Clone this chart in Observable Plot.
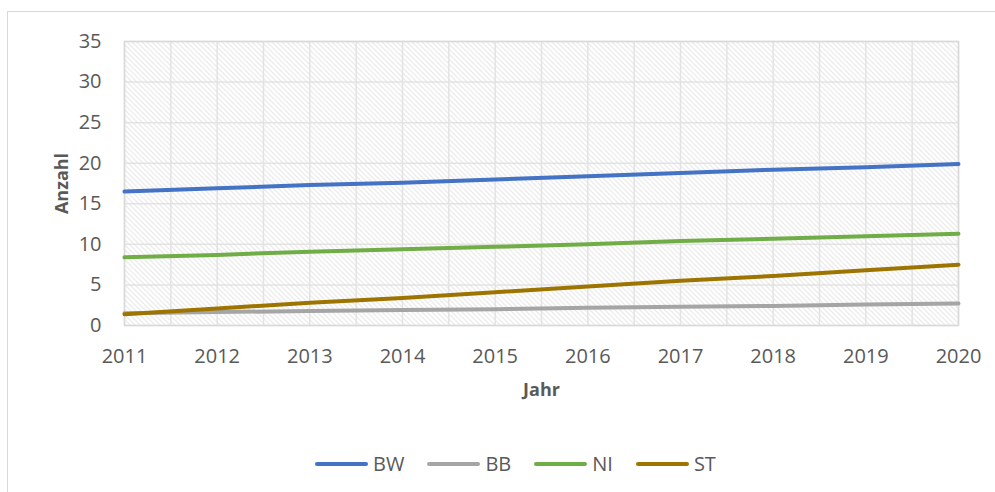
<!DOCTYPE html>
<html>
<head>
<meta charset="utf-8">
<script src="https://cdn.jsdelivr.net/npm/d3@7"></script>
<script src="https://cdn.jsdelivr.net/npm/@observablehq/plot@0.6"></script>
<style>
  html, body { margin: 0; padding: 0; background: #fff; }
  body { width: 995px; height: 492px; overflow: hidden; position: relative; font-family: "Open Sans", sans-serif; }
  #frame { position: absolute; left: 7px; top: 11px; width: 1000px; height: 500px; border: 1.5px solid #d9d9d9; pointer-events: none; box-sizing: border-box; }
  #chart { position: absolute; left: 0; top: 0; }
  #legend { position: absolute; left: 315px; top: 450px; display: flex; gap: 23px; align-items: center; color: #595959; font-size: 20px; }
  .item { display: flex; align-items: center; gap: 5px; }
  .swatch { display: inline-block; width: 53px; height: 4px; border-radius: 2px; }
</style>
</head>
<body>
<div id="frame"></div>
<div id="chart"></div>
<div id="legend"></div>
<script>
const years = [2011, 2012, 2013, 2014, 2015, 2016, 2017, 2018, 2019, 2020];
const yTicks = [0, 5, 10, 15, 20, 25, 30, 35];
const seriesNames = ["BW", "BB", "NI", "ST"];
const seriesColors = ["#4472C4", "#A5A5A5", "#70AD47", "#9E7400"];
const BW = [16.5, 16.9, 17.3, 17.6, 18.0, 18.4, 18.8, 19.2, 19.5, 19.9];
const BB = [1.5, 1.65, 1.8, 1.9, 2.0, 2.2, 2.3, 2.4, 2.6, 2.7];
const NI = [8.4, 8.7, 9.1, 9.4, 9.7, 10.0, 10.4, 10.7, 11.0, 11.3];
const ST = [1.4, 2.1, 2.8, 3.4, 4.1, 4.8, 5.5, 6.1, 6.8, 7.5];

const valuesBySeries = {BW, BB, NI, ST};
const data = seriesNames.flatMap(s => years.map((y, i) => ({series: s, year: y, value: valuesBySeries[s][i]})));

const chart = Plot.plot({
  width: 995,
  height: 420,
  marginLeft: 124,
  marginRight: 37,
  marginTop: 41,
  marginBottom: 95,
  style: {fontFamily: "Open Sans, sans-serif", color: "#595959", background: "transparent"},
  x: {domain: [2011, 2020]},
  y: {domain: [0, 35]},
  color: {domain: seriesNames, range: seriesColors},
  marks: [
    Plot.frame({fill: "url(#hatch)", stroke: null}),
    Plot.gridX({interval: 0.5, stroke: "#e3e3e3", strokeOpacity: 1, strokeWidth: 1.5}),
    Plot.gridY({ticks: yTicks, stroke: "#e3e3e3", strokeOpacity: 1, strokeWidth: 1.5}),
    Plot.frame({stroke: "#d9d9d9", strokeWidth: 1.5}),
    Plot.axisX({ticks: years, tickFormat: d => String(d), tickSize: 0, tickPadding: 23, fontSize: 20, label: null}),
    Plot.axisY({ticks: yTicks, tickSize: 0, tickPadding: 23, fontSize: 20, label: null}),
    Plot.text(["Jahr"], {frameAnchor: "bottom", dy: 70, fontSize: 18, fontWeight: "bold", fill: "#595959"}),
    Plot.text(["Anzahl"], {frameAnchor: "left", rotate: -90, dx: -62, textAnchor: "middle", lineAnchor: "middle", fontSize: 18, fontWeight: "bold", fill: "#595959"}),
    Plot.line(data, {x: "year", y: "value", z: "series", stroke: "series", strokeWidth: 4, strokeLinecap: "round"})
  ]
});

// hatch pattern definition
const ns = "http://www.w3.org/2000/svg";
const defs = document.createElementNS(ns, "defs");
defs.innerHTML = `<pattern id="hatch" patternUnits="userSpaceOnUse" width="5" height="5">
  <path d="M-1,-1 L6,6 M-1,4 L1,6 M4,-1 L6,1" stroke="#d9d9d9" stroke-width="1"/>
</pattern>`;
chart.insertBefore(defs, chart.firstChild);
document.getElementById("chart").appendChild(chart);

const legend = document.getElementById("legend");
seriesNames.forEach((s, i) => {
  const item = document.createElement("div");
  item.className = "item";
  const sw = document.createElement("span");
  sw.className = "swatch";
  sw.style.background = seriesColors[i];
  const t = document.createElement("span");
  t.textContent = s;
  item.appendChild(sw);
  item.appendChild(t);
  legend.appendChild(item);
});
</script>
</body>
</html>
